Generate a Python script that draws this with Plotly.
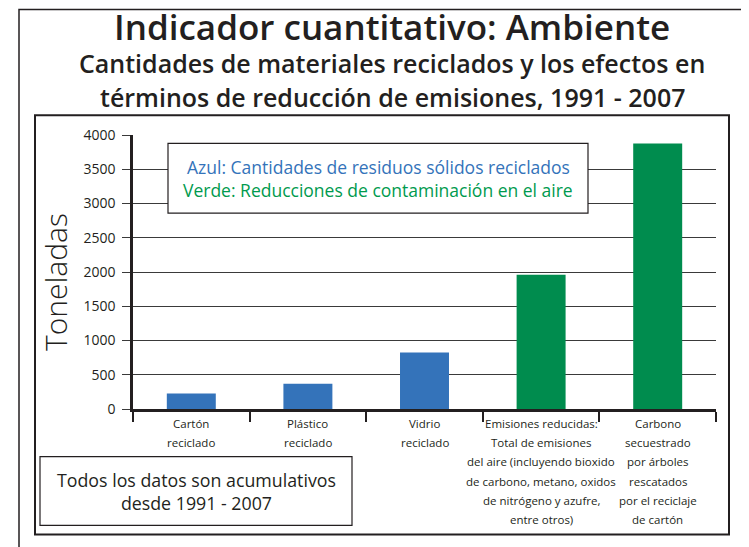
import plotly.graph_objects as go

# ---------------- data ----------------
categories = ["Cartón reciclado", "Plástico reciclado", "Vidrio reciclado",
              "Emisiones reducidas", "Carbono secuestrado"]
values = [225, 370, 825, 1960, 3875]
bar_groups = ["azul", "azul", "azul", "verde", "verde"]
label_lines = [
    ["Cartón", "reciclado"],
    ["Plástico", "reciclado"],
    ["Vidrio", "reciclado"],
    ["Emisiones reducidas:", "Total de emisiones", "del aire (incluyendo bioxido",
     "de carbono, metano, oxidos", "de nitrógeno y azufre,", "entre otros)"],
    ["Carbono", "secuestrado", "por árboles", "rescatados", "por el reciclaje", "de cartón"],
]
y_ticks = [0, 500, 1000, 1500, 2000, 2500, 3000, 3500, 4000]
title_text = "Indicador cuantitativo: Ambiente"
subtitle_lines = ["Cantidades de materiales reciclados y los efectos en",
                  "términos de reducción de emisiones, 1991 - 2007"]
legend_lines = ["Azul: Cantidades de residuos sólidos reciclados",
                "Verde: Reducciones de contaminación en el aire"]
note_lines = ["Todos los datos son acumulativos", "desde 1991 - 2007"]
y_title = "Toneladas"

# ---------------- style ----------------
W, H = 749, 547
OFF = 8  # page body margin
L, R, T, B = 133, 716, 134.7, 409.3  # plot area in screen pixels
BLUE = "#3473ba"
GREEN = "#008c4e"
INK = "#231f20"
FONT = "Open Sans"
colors = [BLUE if g == "azul" else GREEN for g in bar_groups]


def px(x):
    return (x - L) / (R - L)


def py(y):
    return (B - y) / (B - T)


def txt(s, x, y, size, color=INK, weight=400, **kw):
    return dict(text=s, x=px(x), y=py(y), xref="paper", yref="paper", showarrow=False,
                xanchor="center", yanchor="middle",
                font=dict(family=FONT, size=size, color=color, weight=weight), **kw)


fig = go.Figure()
fig.add_trace(go.Bar(x=categories, y=values, marker=dict(color=colors, line=dict(width=0)),
                     width=0.42, hoverinfo="x+y"))

annotations = []
annotations.append(txt(title_text, 392, 26, 35, weight=600))
for i, s in enumerate(subtitle_lines):
    annotations.append(txt(s, 392, 63 + i * 34, 25, weight=600))
annotations.append(txt(y_title, 56, 282, 30, weight=300, textangle=-90))
for cat, lines in zip(categories, label_lines):
    for j, s in enumerate(lines):
        annotations.append(dict(text=s, x=cat, xref="x", y=py(424 + j * 19.2), yref="paper",
                                showarrow=False, xanchor="center", yanchor="middle",
                                font=dict(family=FONT, size=11.5, color=INK)))
annotations.append(txt(legend_lines[0], 378, 167, 17.5, color=BLUE))
annotations.append(txt(legend_lines[1], 378, 190, 17.5, color="#009a4e"))
annotations.append(txt("<br>".join(note_lines), 196, 492, 17.8))

shapes = [
    dict(type="path", xref="paper", yref="paper",
         path=f"M {px(19)},{py(570)} L {px(19)},{py(9)} L {px(743)},{py(9)} L {px(743)},{py(570)}",
         line=dict(color=INK, width=1.5), layer="above"),
    dict(type="rect", xref="paper", yref="paper", x0=px(35), x1=px(729), y0=py(535), y1=py(115),
         line=dict(color=INK, width=2), layer="below"),
    dict(type="rect", xref="paper", yref="paper", x0=px(168), x1=px(588), y0=py(213), y1=py(143),
         line=dict(color=INK, width=1.2), fillcolor="white", layer="above"),
    dict(type="rect", xref="paper", yref="paper", x0=px(40), x1=px(352), y0=py(526), y1=py(457),
         line=dict(color=INK, width=1.2), fillcolor="white", layer="above"),
]

fig.update_layout(
    width=W, height=H,
    margin=dict(l=L - OFF, r=W - (R - OFF), t=T - OFF, b=H - (B - OFF), autoexpand=False),
    paper_bgcolor="white", plot_bgcolor="white",
    showlegend=False,
    annotations=annotations, shapes=shapes,
    font=dict(family=FONT, color=INK),
)
fig.update_xaxes(type="category", showticklabels=False, showgrid=False,
                 showline=True, linecolor=INK, linewidth=2.5,
                 ticks="outside", tickson="boundaries", ticklen=10, tickwidth=2, tickcolor=INK,
                 range=[-0.5, len(categories) - 0.5], fixedrange=True)
fig.update_yaxes(range=[0, 4000], tickvals=y_ticks, ticktext=[str(v) for v in y_ticks],
                 showgrid=True, gridcolor="#3a3a3a", gridwidth=1.3,
                 showline=True, linecolor=INK, linewidth=2.5,
                 ticks="outside", ticklen=8, tickwidth=1.3, tickcolor="#3a3a3a",
                 tickfont=dict(family=FONT, size=14, color=INK), ticklabelstandoff=4,
                 zeroline=False, fixedrange=True)

fig.write_html("out.html")
